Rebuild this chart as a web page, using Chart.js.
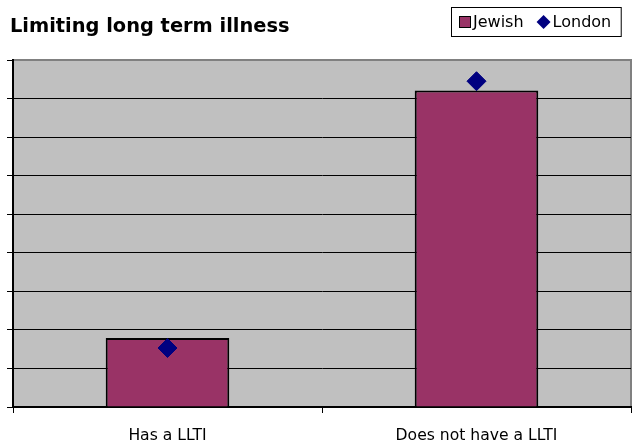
<!DOCTYPE html>
<html>
<head>
<meta charset="utf-8">
<title>Limiting long term illness</title>
<script src="https://cdn.jsdelivr.net/npm/chart.js@4.4.1/dist/chart.umd.min.js"></script>
<style>
  html, body { margin: 0; padding: 0; background: #fff; }
  canvas { display: block; }
</style>
</head>
<body>
<canvas id="llti" width="636" height="444"></canvas>
<script>
// chart data
var categories = ['Has a LLTI', 'Does not have a LLTI'];
var jewishPct = [17.9, 82.1];
var londonPct = [15.3, 84.5];
var yTicks = [0, 10, 20, 30, 40, 50, 60, 70, 80, 90];
var chartTitle = 'Limiting long term illness';

var FONT = '"DejaVu Sans", Verdana, sans-serif';

// grey plot area with a grey frame, like the old spreadsheet charts
var plotArea = {
    id: 'plotArea',
    beforeDraw: function(chart) {
        var a = chart.chartArea, ctx = chart.ctx;
        ctx.save();
        ctx.fillStyle = '#c0c0c0';
        ctx.fillRect(a.left, a.top, a.right - a.left, a.bottom - a.top);
        ctx.strokeStyle = '#808080';
        ctx.lineWidth = 2;
        ctx.beginPath();
        ctx.moveTo(a.left, a.top);
        ctx.lineTo(a.right, a.top);
        ctx.lineTo(a.right, a.bottom);
        ctx.stroke();
        ctx.restore();
    }
};

// title and boxed legend share the top row, so both are drawn here
var header = {
    id: 'header',
    afterDraw: function(chart) {
        var ctx = chart.ctx;
        ctx.save();
        ctx.fillStyle = '#000';
        ctx.font = 'bold 19.4px ' + FONT;
        ctx.textBaseline = 'alphabetic';
        ctx.fillText(chartTitle, 10, 32);

        // legend
        ctx.font = '16px ' + FONT;
        ctx.textBaseline = 'middle';
        var x = 459, cy = 22;
        var start = 451.5;
        chart.data.datasets.forEach(function(ds, i) {
            if (ds.pointStyle === 'rectRot') {
                x += 4;
                ctx.fillStyle = ds.backgroundColor;
                ctx.beginPath();
                ctx.moveTo(x + 7, cy - 7);
                ctx.lineTo(x + 14, cy);
                ctx.lineTo(x + 7, cy + 7);
                ctx.lineTo(x, cy);
                ctx.closePath();
                ctx.fill();
                x += 16;
            } else {
                ctx.fillStyle = ds.backgroundColor;
                ctx.fillRect(x, cy - 6, 12, 12);
                ctx.strokeStyle = '#000';
                ctx.lineWidth = 1;
                ctx.strokeRect(x + 0.5, cy - 5.5, 11, 11);
                x += 14;
            }
            ctx.fillStyle = '#000';
            ctx.fillText(ds.label, x, cy + 1);
            x += ctx.measureText(ds.label).width + 9;
        });
        ctx.strokeStyle = '#000';
        ctx.lineWidth = 1;
        ctx.strokeRect(start, 7.5, x - start + 1, 29);
        ctx.restore();
    }
};

var ctx = document.getElementById('llti').getContext('2d');
var chart = new Chart(ctx, {
    type: 'bar',
    data: {
        labels: categories,
        datasets: [{
            label: 'Jewish',
            data: jewishPct,
            backgroundColor: '#993366',
            borderColor: '#000',
            borderWidth: 2,
            pointStyle: 'rect',
            categoryPercentage: 1,
            barPercentage: 0.4,
            order: 1
        }, {
            type: 'line',
            label: 'London',
            data: londonPct,
            showLine: false,
            pointStyle: 'rectRot',
            pointRadius: 9.5,
            pointHoverRadius: 9.5,
            backgroundColor: '#000080',
            borderColor: '#000080',
            borderWidth: 1,
            order: 0
        }]
    },
    options: {
        responsive: false,
        animation: false,
        // the diamonds would otherwise pull the plot in from the right edge
        layout: { autoPadding: false, padding: { left: 7, right: 5, top: 60, bottom: 0 } },
        plugins: {
            title: { display: false },
            legend: { display: false },
            tooltip: { enabled: false }
        },
        scales: {
            x: {
                offset: true,
                afterFit: function(scale) {
                    scale.height = 37;
                    scale.paddingLeft = 0;
                    scale.paddingRight = 0;
                },
                grid: {
                    offset: true,
                    drawOnChartArea: false,
                    tickLength: 6,
                    color: '#000'
                },
                border: { color: '#000', width: 2 },
                ticks: {
                    color: '#000',
                    padding: 14,
                    font: { family: FONT, size: 15.6 }
                }
            },
            y: {
                min: yTicks[0],
                max: yTicks[yTicks.length - 1],
                afterFit: function(scale) {
                    scale.width = 6;
                    scale.paddingTop = 0;
                    scale.paddingBottom = 0;
                },
                afterBuildTicks: function(scale) {
                    scale.ticks = yTicks.map(function(v) { return { value: v }; });
                },
                grid: {
                    tickLength: 6,
                    color: function(c) {
                        return c.tick && c.tick.value === yTicks[yTicks.length - 1] ? '#808080' : '#000';
                    },
                    tickColor: '#000'
                },
                border: { color: '#000', width: 2 },
                ticks: { display: false }
            }
        }
    },
    plugins: [plotArea, header]
});
</script>
</body>
</html>
